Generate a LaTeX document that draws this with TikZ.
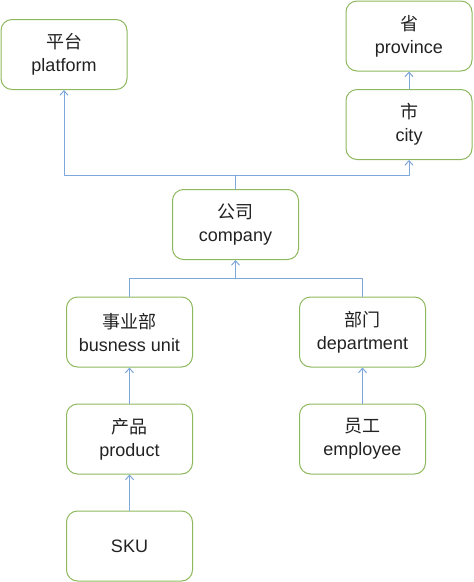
\documentclass[tikz,border=0pt]{standalone}
\usepackage{fontspec}
\setmainfont{Liberation Sans}
\newfontfamily\cjk{Noto Sans CJK SC}
\usetikzlibrary{arrows.meta}
\definecolor{boxgreen}{HTML}{8DB85E}
\definecolor{linkblue}{HTML}{7DA6DA}
\definecolor{txtgray}{HTML}{222222}
\begin{document}
\begin{tikzpicture}[x=1pt, y=-1pt, line cap=round, line join=round,
		entity/.style={draw=boxgreen, line width=1pt, rounded corners=11pt, minimum width=126pt, minimum height=70pt, align=center, text=txtgray, font=\fontsize{18}{23}\selectfont},
		link/.style={draw=linkblue, line width=1pt},
		uplink/.style={link, -{Straight Barb[length=4.5pt, width=8pt]}}]
	\useasboundingbox (0,0) rectangle (474,582);

	% upper part
	\node[entity] (platform) at (64,54.5) {{\cjk 平台}\\platform};
	\node[entity] (province) at (409,36) {{\cjk 省}\\province};
	\node[entity] (city) at (409,124.5) {{\cjk 市}\\city};
	\node[entity] (company) at (235.5,224.5) {{\cjk 公司}\\company};

	% lower part
	\node[entity] (unit) at (129.5,332) {{\cjk 事业部}\\busness unit};
	\node[entity] (dept) at (362.5,332) {{\cjk 部门}\\department};
	\node[entity] (product) at (129.5,439) {{\cjk 产品}\\product};
	\node[entity] (employee) at (362.5,439) {{\cjk 员工}\\employee};
	\node[entity] (sku) at (129.5,546) {SKU};

	% connectors
	\coordinate (topbus) at (235.5,175);
	\coordinate (lowbus) at (235.5,278);
	\draw[link] (company.north) -- (topbus);
	\draw[uplink] (topbus) -| (platform.south);
	\draw[uplink] (topbus) -| (city.south);
	\draw[uplink] (city.north) -- (province.south);
	\draw[link] (unit.north) |- (lowbus);
	\draw[link] (dept.north) |- (lowbus);
	\draw[uplink] (lowbus) -- (company.south);
	\draw[uplink] (product.north) -- (unit.south);
	\draw[uplink] (employee.north) -- (dept.south);
	\draw[uplink] (sku.north) -- (product.south);
\end{tikzpicture}
\end{document}
